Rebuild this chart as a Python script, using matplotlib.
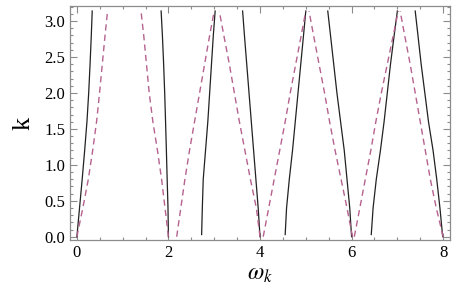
import numpy as np
import matplotlib
matplotlib.use("Agg")
import matplotlib.pyplot as plt
from matplotlib.ticker import MultipleLocator

k = [0.0, 0.4, 0.8, 1.2, 1.6, 2.0, 2.4, 2.8, 3.14]
k_gap = [0.03, 0.4, 0.8, 1.2, 1.6, 2.0, 2.4, 2.8, 3.14]

# solid branches
solid1 = [0.0, 0.058, 0.116, 0.17, 0.22, 0.258, 0.288, 0.315, 0.335]
solid2 = [2.0, 1.99, 1.972, 1.955, 1.937, 1.918, 1.895, 1.868, 1.84]
solid3 = [2.725, 2.74, 2.76, 2.81, 2.86, 2.90, 2.94, 2.98, 3.02]
solid4 = [4.0, 3.96, 3.91, 3.86, 3.81, 3.76, 3.71, 3.66, 3.62]
solid5 = [4.55, 4.58, 4.64, 4.71, 4.77, 4.83, 4.89, 4.95, 5.0]
solid6 = [6.0, 5.96, 5.9, 5.84, 5.76, 5.68, 5.61, 5.54, 5.48]
solid7 = [6.43, 6.47, 6.54, 6.63, 6.71, 6.78, 6.85, 6.93, 7.0]
solid8 = [7.99, 7.93, 7.86, 7.78, 7.68, 7.60, 7.52, 7.45, 7.39]

# dashed branches
dash1 = [0.0, 0.13, 0.25, 0.345, 0.43, 0.495, 0.555, 0.615, 0.67]
dash2 = [2.0, 1.925, 1.85, 1.76, 1.66, 1.58, 1.52, 1.46, 1.40]
dash3 = [2.18, 2.27, 2.36, 2.46, 2.57, 2.68, 2.79, 2.90, 3.0]
dash4 = [4.0, 3.92, 3.79, 3.67, 3.55, 3.44, 3.33, 3.21, 3.11]
dash5 = [4.07, 4.19, 4.31, 4.43, 4.55, 4.66, 4.78, 4.90, 5.0]
dash6 = [6.02, 5.9, 5.77, 5.64, 5.52, 5.41, 5.29, 5.17, 5.07]
dash7 = [6.06, 6.18, 6.30, 6.42, 6.53, 6.65, 6.78, 6.91, 7.02]
dash8 = [8.0, 7.85, 7.72, 7.61, 7.50, 7.39, 7.28, 7.16, 7.06]

solid_up = [solid1, solid3, solid5, solid7]
solid_down = [solid2, solid4, solid6, solid8]
dashed = [dash1, dash2, dash3, dash4, dash5, dash6, dash7, dash8]

plt.rcParams["mathtext.fontset"] = "stix"
plt.rcParams["font.family"] = "Liberation Serif"

fig = plt.figure(figsize=(4.57, 2.95), dpi=100)
ax = fig.add_axes([0.1532, 0.1864, 0.8315, 0.7933])

for i, w in enumerate(solid_up):
    kk = k if i == 0 else k_gap
    ax.plot(w, kk, color="#222222", lw=0.9)
for w in solid_down:
    ax.plot(w, k, color="#222222", lw=0.9)
for w in dashed:
    ax.plot(w, k, color="#b5628f", lw=1.0, dashes=(4.5, 3))

ax.set_xlim(-0.15, 8.15)
ax.set_ylim(-0.046, 3.21)

ax.xaxis.set_major_locator(MultipleLocator(2))
ax.xaxis.set_minor_locator(MultipleLocator(0.5))
ax.yaxis.set_major_locator(MultipleLocator(0.5))
ax.yaxis.set_minor_locator(MultipleLocator(0.1))
ax.yaxis.set_major_formatter(matplotlib.ticker.FormatStrFormatter("%.1f"))

ax.tick_params(which="both", direction="in", top=True, right=True,
               color="#8c8c8c", labelsize=12, width=0.8)
ax.tick_params(which="major", length=5)
ax.tick_params(which="minor", length=2.5)
for s in ax.spines.values():
    s.set_color("#8c8c8c")
    s.set_linewidth(0.9)

ax.set_xlabel(r"$\omega_k$", fontsize=17, labelpad=2)
ax.set_ylabel("k", fontsize=19, rotation=90, labelpad=7)

fig.savefig("out.png", dpi=100)
